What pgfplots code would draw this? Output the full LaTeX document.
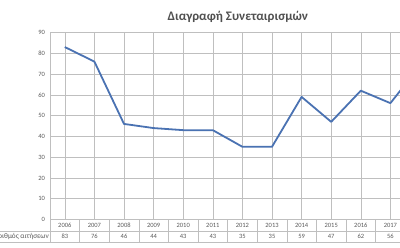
\documentclass[border=0pt]{standalone}
\usepackage{fontspec}
\setmainfont{Carlito}
\usepackage{pgfplots}
\pgfplotsset{compat=1.18}
\definecolor{grid}{HTML}{D9D9D9}
\definecolor{tline}{HTML}{BFBFBF}
\definecolor{txt}{HTML}{595959}
\definecolor{ttl}{HTML}{505050}
\definecolor{ser}{HTML}{4A72B2}
\begin{document}
\begin{tikzpicture}[x=1pt,y=1pt]
\path[use as bounding box, clip] (0,0) rectangle (400,248);
\begin{axis}[
  at={(50pt,28.5pt)}, anchor=south west,
  scale only axis, width=350pt, height=187pt,
  xmin=0, xmax=11.824, ymin=0, ymax=90,
  ytick={0,10,...,90},
  ymajorgrids, major grid style={grid, line width=0.6pt},
  axis line style={draw=none},
  axis x line*=bottom, axis y line*=left,
  xtick={0.5,1.5,...,11.5},
  xticklabels={{2006\\83},{2007\\76},{2008\\46},{2009\\44},{2010\\43},{2011\\43},{2012\\35},{2013\\35},{2014\\59},{2015\\47},{2016\\62},{2017\\56}},
  xticklabel style={align=center, anchor=north, font=\fontsize{6.5}{11.4}\selectfont, text=txt, yshift=0pt},
  yticklabel style={font=\fontsize{6.5}{6.5}\selectfont, text=txt, xshift=-1.5pt},
  major tick length=0pt,
  /pgf/number format/assume math mode=true,
  clip=false,
]
\addplot[ser, line width=1.8pt, line join=round] coordinates {
(0.5,83) (1.5,76) (2.5,46) (3.5,44) (4.5,43) (5.5,43) (6.5,35) (7.5,35) (8.5,59) (9.5,47) (10.5,62) (11.5,56) (12.5,74)
};
\end{axis}
% table and axis lines
\draw[tline, line width=0.6pt] (50,215.5) -- (50,6);
\draw[tline, line width=0.6pt] (50,28.5) -- (400,28.5);
\draw[tline, line width=0.6pt] (0,16.5) -- (400,16.5);
\draw[tline, line width=0.6pt] (0,6) -- (400,6);
\foreach \i in {1,...,12} {\draw[tline, line width=0.6pt] ({50+29.6*\i},28.5) -- ({50+29.6*\i},6);}
\node[anchor=east, text=txt, font=\fontsize{7.3}{7.3}\selectfont, inner sep=0pt] at (49,11.3) {Αριθμός αιτήσεων};
\node[anchor=base, text=ttl, font=\fontsize{13}{13}\selectfont\bfseries, inner sep=0pt] at (237.8,227.5) {Διαγραφή Συνεταιρισμών};
\end{tikzpicture}
\end{document}
